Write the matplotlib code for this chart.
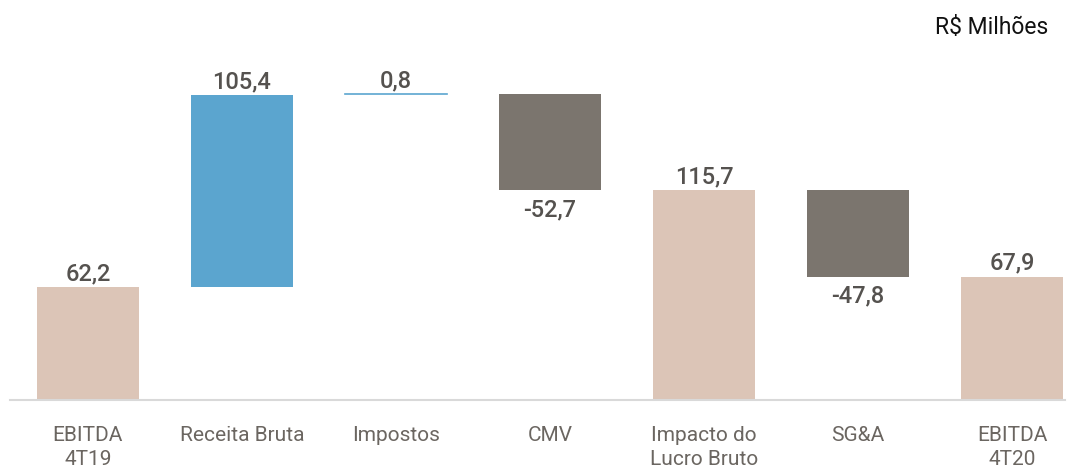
import numpy as np
import matplotlib
matplotlib.use("Agg")
import matplotlib.pyplot as plt

plt.rcParams['font.family'] = ['Roboto', 'DejaVu Sans']

# dados (R$ milhões)
categorias = ["EBITDA\n4T19", "Receita Bruta", "Impostos", "CMV",
              "Impacto do\nLucro Bruto", "SG&A", "EBITDA\n4T20"]
valores = [62.2, 105.4, 0.8, -52.7, 115.7, -47.8, 67.9]
tipo = ["total", "delta", "delta", "delta", "total", "delta", "total"]

cor_total = "#DCC5B7"
cor_pos = "#5BA5CF"
cor_neg = "#7B756E"

fig = plt.figure(figsize=(10.75, 4.68), dpi=100)
# baseline a y=400px, topo a y=40px
ax = fig.add_axes([10 / 1075, 1 - 400 / 468, 1055 / 1075, 360 / 468])

x = np.arange(len(categorias))
largura = 0.66
acum = 0.0
for i, (v, t) in enumerate(zip(valores, tipo)):
    if t == "total":
        base, topo = 0.0, v
        acum = v
        cor = cor_total
    else:
        base = acum
        acum = acum + v
        topo = acum
        cor = cor_pos if v > 0 else cor_neg
    baixo, alto = min(base, topo), max(base, topo)
    if alto - baixo < 1.5:
        ax.plot([i - largura / 2, i + largura / 2], [alto, alto], color=cor, lw=1.2)
    else:
        ax.bar(i, alto - baixo, bottom=baixo, width=largura, color=cor)
    rotulo = f"{v:.1f}".replace(".", ",")
    if t == "delta" and v < 0:
        ax.text(i, baixo - 4.5, rotulo, ha="center", va="top", fontsize=17,
                color="#55524F", fontweight="medium")
    else:
        ax.text(i, alto + 1.0, rotulo, ha="center", va="bottom", fontsize=17,
                color="#55524F", fontweight="medium")

ax.set_xlim(-0.506, 6.344)
ax.set_ylim(0, 198.1)
for s in ["top", "right", "left"]:
    ax.spines[s].set_visible(False)
ax.spines["bottom"].set_color("#D9D9D9")
ax.spines["bottom"].set_linewidth(1.5)
ax.set_yticks([])
ax.set_xticks(x)
ax.set_xticklabels(categorias, fontsize=15, color="#6B6661", linespacing=1.32, va="top")
ax.tick_params(axis="x", length=0, pad=19)

fig.text(1048 / 1075, 1 - 28 / 468, "R$ Milhões", ha="right", va="center",
         fontsize=16.5, color="#111111")

fig.savefig("out.png", dpi=100, facecolor="white")
